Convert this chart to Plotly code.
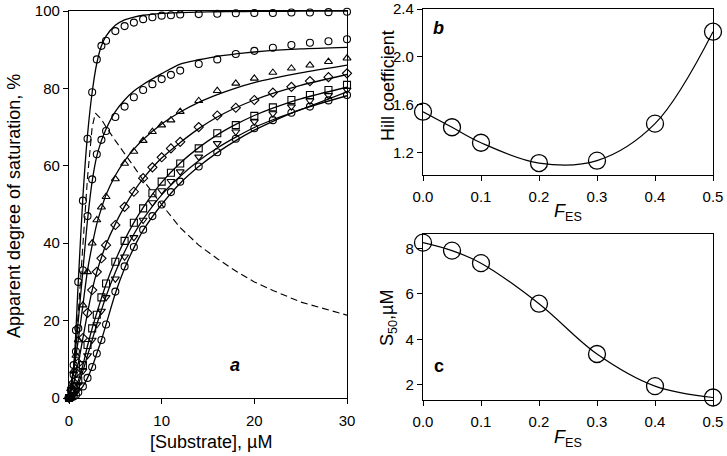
import plotly.graph_objects as go

# ---------------- data: panel a ----------------
marker_x = [0, 0.25, 0.5, 0.75, 1, 1.5, 2, 2.5, 3, 3.5, 4, 5, 6, 7, 8, 9, 10, 11, 12,
            14, 16, 18, 20, 22, 24, 26, 28, 30]
s1 = [0, 2, 8.5, 17.5, 30, 51, 67, 79, 87.5, 91, 92.3, 94.8, 96.1, 97, 97.9, 98.4, 98.8, 98.9,
      99.1, 99.2, 99.3, 99.4, 99.5, 99.5, 99.6, 99.6, 99.7, 99.8]
s2 = [0, 2, 6, 12, 18, 33, 47, 56.5, 63, 66.7, 69, 72.6, 75.3, 77.7, 79.6, 81.1, 82.4, 83.5,
      84.6, 86.3, 87.5, 88.9, 89.7, 90.5, 91.2, 91.8, 92.2, 92.7]
s3 = [0, 3, 7, 11, 15, 24, 32.6, 40, 46, 49.3, 52, 56.6, 60.6, 63.7, 66.5, 68.8, 70.5, 71.8,
      74, 76.8, 79.4, 81.3, 82.6, 84.1, 85.2, 86, 86.9, 87.8]
s4 = [0, 2, 4, 6.5, 9, 15.5, 22, 27.9, 32.6, 36.1, 39.5, 44.7, 49.4, 53.3, 56.8, 59.6, 62.2,
      64.5, 66.2, 70, 73, 75, 77, 78.9, 80.4, 81.9, 82.9, 83.9]
s5 = [0, 0.5, 1.5, 3, 4.5, 8.5, 13.7, 18, 21.5, 26, 29.6, 35.2, 40.6, 45.3, 49, 52.9, 55.9,
      58.2, 60.6, 64.5, 68.4, 70.5, 72.9, 75.1, 77, 78.3, 79.6, 80.9]
s6 = [0, 0.3, 1, 2, 3.5, 7, 11, 15, 19, 22.5, 26, 30.8, 36.5, 41.5, 46, 50.5, 53.6, 56, 58.5,
      62.3, 65.8, 68.8, 71.4, 73.5, 75.3, 76.8, 78.2, 79.6]
s7 = [0, 0.1, 0.4, 0.8, 1.5, 3, 5.2, 8, 11.5, 15, 19, 27.5, 34, 39, 43.5, 47, 50, 53.2, 55.9,
      59.8, 63.5, 67, 69.7, 71.8, 73.7, 75.3, 76.9, 78.3]

line_x = [0, 0.5, 1, 1.5, 2, 2.5, 3, 3.5, 4, 5, 6, 7, 8, 10, 12, 14, 16, 18, 20, 22, 25, 30]
l1 = [0, 8, 30, 52, 68, 79, 86.5, 91, 93.5, 96.3, 97.7, 98.4, 98.9, 99.4, 99.6, 99.7, 99.8,
      99.85, 99.9, 99.9, 99.95, 100]
l2 = [0, 8, 20, 33, 46, 56, 62.5, 66.5, 69.5, 74, 77, 79.3, 81, 83.8, 86.3, 87.4, 88.3, 88.9,
      89.4, 89.8, 90.2, 90.6]
l3 = [0, 7, 15, 24, 33, 39.5, 45, 49, 52.5, 57.5, 61.3, 64.3, 66.8, 70.8, 73.9, 76.4, 78.4,
      80.1, 81.5, 82.6, 84, 86]
l4 = [0, 4, 9, 15.5, 22, 27.9, 32.6, 36.3, 39.7, 45, 49.5, 53.4, 56.7, 62, 66, 69.6, 72.6, 75,
      77, 78.7, 80.8, 83.6]
l5 = [0, 1.5, 4.5, 8.5, 13.5, 18, 22, 25.8, 29.4, 35.5, 40.8, 45.3, 49.2, 55.7, 60.7, 64.7, 68,
      70.7, 73, 74.9, 77.3, 80.3]
l6 = [0, 1, 3.5, 7, 11, 15, 19, 22.7, 26.3, 32.5, 37.8, 42.3, 46.2, 52.5, 57.3, 61.3, 64.6,
      67.4, 69.9, 71.9, 74.5, 79.1]
l7 = [0, 0.4, 1.5, 3, 5.2, 8, 11.5, 15, 19, 27, 33.5, 38.8, 43.3, 50, 55.5, 59.8, 63.4, 66.5,
      69.2, 71.5, 74.5, 78.1]

dash_x = [0, 0.5, 1, 1.5, 2, 2.5, 2.85, 3.5, 4, 5, 6, 7, 8, 9, 10, 12, 14, 16, 18, 20, 22, 25, 30]
dash_y = [0, 6, 22, 40, 57, 70, 73.6, 72, 70, 66.5, 63.3, 59.8, 56.3, 53, 50, 44, 39.5, 36, 32.8,
          30, 27.8, 24.8, 21.4]

# ---------------- data: panels b, c ----------------
f_es = [0.0, 0.05, 0.1, 0.2, 0.3, 0.4, 0.5]
hill = [1.54, 1.41, 1.28, 1.11, 1.13, 1.44, 2.21]
s50 = [8.25, 7.9, 7.35, 5.57, 3.36, 1.95, 1.45]

a_yticks = [0, 20, 40, 60, 80, 100]
a_xticks = [0, 10, 20, 30]
b_yticks = [1.2, 1.6, 2.0, 2.4]
c_yticks = [2, 4, 6, 8]
bc_xticks = [0.0, 0.1, 0.2, 0.3, 0.4, 0.5]

FONT = "Liberation Sans, Arial, sans-serif"
W, H = 727, 456

fig = go.Figure()

series = [(s1, l1, "circle-open"), (s2, l2, "circle-open"), (s3, l3, "triangle-up-open"),
          (s4, l4, "diamond-open"), (s5, l5, "square-open"), (s6, l6, "triangle-down-open"),
          (s7, l7, "circle-open")]
for sv, lv, sym in series:
    fig.add_trace(go.Scatter(x=line_x, y=lv, mode="lines", xaxis="x", yaxis="y",
                             line=dict(color="black", width=1.3, shape="spline", smoothing=0.8),
                             showlegend=False, hoverinfo="skip"))
    fig.add_trace(go.Scatter(x=marker_x, y=sv, mode="markers", xaxis="x", yaxis="y",
                             marker=dict(symbol=sym, size=7, color="black",
                                         line=dict(color="black", width=1.1)),
                             cliponaxis=False, showlegend=False))
fig.add_trace(go.Scatter(x=dash_x, y=dash_y, mode="lines", xaxis="x", yaxis="y",
                         line=dict(color="black", width=1.1, dash="7px,4px"),
                         showlegend=False, hoverinfo="skip"))

# panel b
fig.add_trace(go.Scatter(x=f_es, y=hill, mode="lines+markers", xaxis="x2", yaxis="y2",
                         line=dict(color="black", width=1.2, shape="spline", smoothing=1.0),
                         marker=dict(symbol="circle-open", size=17, color="black",
                                     line=dict(color="black", width=1.3)),
                         cliponaxis=False, showlegend=False))
# panel c
fig.add_trace(go.Scatter(x=f_es, y=s50, mode="lines+markers", xaxis="x3", yaxis="y3",
                         line=dict(color="black", width=1.2, shape="spline", smoothing=1.0),
                         marker=dict(symbol="circle-open", size=17, color="black",
                                     line=dict(color="black", width=1.3)),
                         cliponaxis=False, showlegend=False))

def px_x(p):
    return p / W

def px_y(p):
    return 1 - p / H

axis_common = dict(showline=True, linecolor="black", linewidth=1.3, mirror=True,
                   ticks="outside", ticklen=5, tickwidth=1.2, tickcolor="black",
                   showgrid=False, zeroline=False, automargin=False,
                   tickfont=dict(family=FONT, size=15, color="black"))

fig.update_layout(
    width=W, height=H, margin=dict(l=0, r=0, t=0, b=0, pad=0, autoexpand=False),
    paper_bgcolor="white", plot_bgcolor="white",
    xaxis=dict(domain=[px_x(69), px_x(347)], range=[0, 30], tickvals=a_xticks,
               anchor="y", ticklabelstandoff=4, **axis_common),
    yaxis=dict(domain=[px_y(398), px_y(11)], range=[0, 100], tickvals=a_yticks,
               anchor="x", **axis_common),
    xaxis2=dict(domain=[px_x(423), px_x(713)], range=[0, 0.5], tickvals=bc_xticks,
                tickformat=".1f", anchor="y2", ticklabelstandoff=3, **axis_common),
    yaxis2=dict(domain=[px_y(175), px_y(9)], range=[1.01, 2.4], tickvals=b_yticks,
                tickformat=".1f", anchor="x2", **axis_common),
    xaxis3=dict(domain=[px_x(423), px_x(713)], range=[0, 0.5], tickvals=bc_xticks,
                tickformat=".1f", anchor="y3", ticklabelstandoff=3, **axis_common),
    yaxis3=dict(domain=[px_y(400), px_y(234)], range=[1.34, 8.63], tickvals=c_yticks,
                anchor="x3", **axis_common),
)

ann = []
def label(x, y, text, size=18, angle=0, **kw):
    ann.append(dict(x=px_x(x), y=px_y(y), xref="paper", yref="paper", text=text,
                    showarrow=False, textangle=angle, xanchor="center", yanchor="middle",
                    font=dict(family=FONT, size=size, color="black"), **kw))

label(14, 206, "Apparent degree of saturation, %", angle=-90)
label(211, 442, "[Substrate], µM")
label(388, 86, "Hill coefficient", angle=-90)
label(388, 318, "S<sub>50</sub>,µM", angle=-90)
label(568, 213, "<i>F</i><sub>ES</sub>")
label(568, 438, "<i>F</i><sub>ES</sub>")
label(235, 365, "<b><i>a</i></b>", size=18)
label(439, 28, "<b><i>b</i></b>", size=18)
label(439, 366, "<b>c</b>", size=18)

fig.update_layout(annotations=ann)
fig.write_html("out.html", config={"displayModeBar": False},
               post_script="document.body.style.margin='0';document.body.style.overflow='hidden';")
